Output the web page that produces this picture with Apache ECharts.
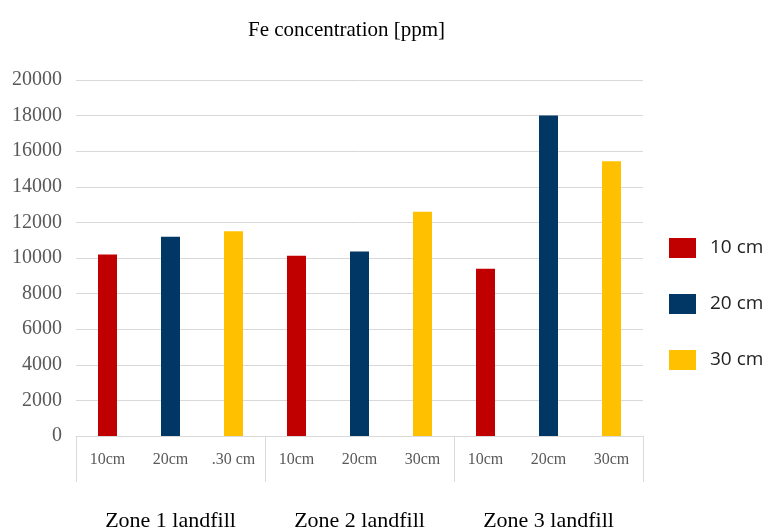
<!DOCTYPE html>
<html>
<head>
<meta charset="utf-8">
<script src="https://cdn.jsdelivr.net/npm/echarts@6/dist/echarts.min.js"></script>
<style>html,body{margin:0;padding:0;background:#fff}#c{width:771px;height:532px}</style>
</head>
<body>
<div id="c"></div>
<script>
const titleText = 'Fe concentration [ppm]';
const catLabels = ['10cm', '20cm', '.30 cm', '10cm', '20cm', '30cm', '10cm', '20cm', '30cm'];
const groups = ['Zone 1 landfill', 'Zone 2 landfill', 'Zone 3 landfill'];
const seriesNames = ['10 cm', '20 cm', '30 cm'];
const depth10 = [10200, 10130, 9400];
const depth20 = [11200, 10370, 18000];
const depth30 = [11500, 12600, 15430];
const yTicks = { min: 0, max: 20000, interval: 2000 };

const colors = ['#c00000', '#003764', '#ffc000'];
const depthValues = [depth10, depth20, depth30];

function spread(vals, d) {
  const out = [];
  for (let g = 0; g < groups.length; g++) {
    for (let k = 0; k < 3; k++) out.push(k === d ? vals[g] : null);
  }
  return out;
}

const serif = 'Liberation Serif';
const chart = echarts.init(document.getElementById('c'), null, { renderer: 'canvas' });
chart.setOption({
  animation: false,
  title: {
    text: titleText, left: 243, top: 15,
    textStyle: { fontFamily: serif, fontSize: 21, fontWeight: 'normal', color: '#000' }
  },
  legend: {
    orient: 'vertical', left: 664, top: 233,
    itemWidth: 27, itemHeight: 20, itemGap: 36,
    icon: 'rect',
    data: seriesNames,
    textStyle: { fontFamily: 'Open Sans', fontSize: 19, color: '#222', padding: [0, 0, 0, 9] }
  },
  grid: { left: 76, right: 128, top: 80, bottom: 96 },
  xAxis: [
    {
      type: 'category', data: catLabels, position: 'bottom',
      axisLine: { lineStyle: { color: '#d9d9d9', width: 1 } },
      axisTick: { show: false },
      axisLabel: { fontFamily: serif, fontSize: 16, color: '#595959', margin: 16, interval: 0 }
    },
    {
      type: 'category', data: groups, position: 'bottom',
      axisLine: { show: false },
      axisTick: { show: true, length: 46, lineStyle: { color: '#d9d9d9', width: 1 } },
      axisLabel: { fontFamily: serif, fontSize: 22, color: '#000', margin: 74, interval: 0 }
    }
  ],
  yAxis: {
    type: 'value', min: yTicks.min, max: yTicks.max, interval: yTicks.interval,
    axisLine: { show: false }, axisTick: { show: false },
    axisLabel: { fontFamily: serif, fontSize: 20, color: '#595959', margin: 14, formatter: v => String(v) },
    splitLine: { lineStyle: { color: '#d9d9d9', width: 1 } }
  },
  series: seriesNames.map((n, d) => ({
    name: n, type: 'bar', xAxisIndex: 0, barWidth: 19, barGap: '-100%',
    itemStyle: { color: colors[d] },
    data: spread(depthValues[d], d)
  }))
});
</script>
</body>
</html>
